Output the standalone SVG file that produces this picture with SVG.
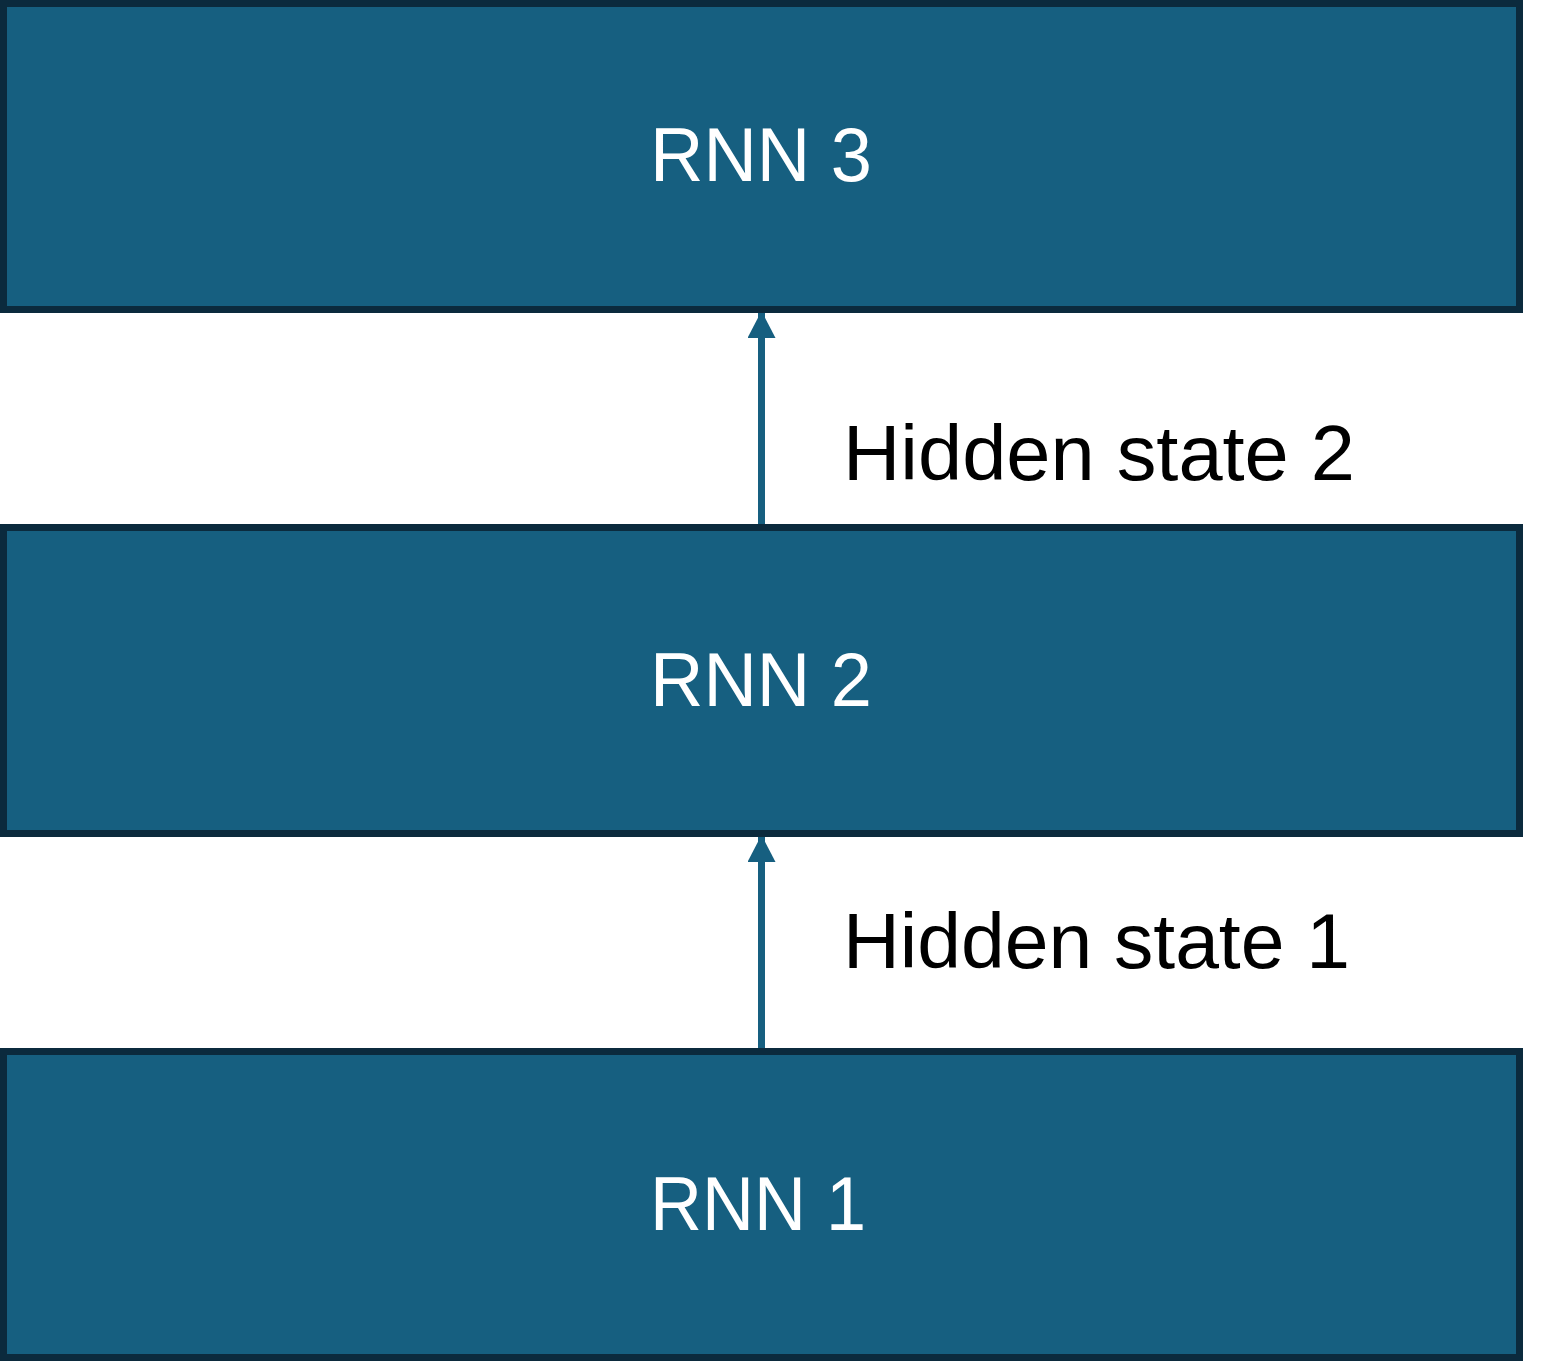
<svg xmlns="http://www.w3.org/2000/svg" width="1562" height="1361" viewBox="0 0 1562 1361">
<style>
.box{fill:#165f80;stroke:#0b2a3d;stroke-width:7}
.lbl{font-family:"Liberation Sans",Arial,sans-serif;font-size:76px;fill:#ffffff;text-anchor:middle}
.edge{font-family:"Liberation Sans",Arial,sans-serif;font-size:77px;fill:#000000}
.conn{stroke:#165f80;stroke-width:7;fill:none}
</style>
<defs>
<marker id="ah" markerUnits="userSpaceOnUse" markerWidth="28" markerHeight="28" refX="27" refY="14" orient="auto" viewBox="0 0 28 28">
<path d="M0,0 L27,14 L0,28 Z" fill="#165f80"/>
</marker>
</defs>
<rect width="1562" height="1361" fill="#ffffff"/>
<g id="connectors">
<line class="conn" x1="761.5" y1="528" x2="761.5" y2="311" marker-end="url(#ah)"/>
<line class="conn" x1="761.5" y1="1052" x2="761.5" y2="835" marker-end="url(#ah)"/>
<text class="edge" x="843" y="480" textLength="512" lengthAdjust="spacingAndGlyphs">Hidden state 2</text>
<text class="edge" x="843" y="968" textLength="507" lengthAdjust="spacingAndGlyphs">Hidden state 1</text>
</g>
<g id="rnn3">
<rect class="box" x="3.5" y="3.5" width="1516" height="306"/>
<text class="lbl" x="761" y="181" textLength="222" lengthAdjust="spacingAndGlyphs">RNN 3</text>
</g>
<g id="rnn2">
<rect class="box" x="3.5" y="527.5" width="1516" height="306"/>
<text class="lbl" x="761" y="706" textLength="222" lengthAdjust="spacingAndGlyphs">RNN 2</text>
</g>
<g id="rnn1">
<rect class="box" x="3.5" y="1051.5" width="1516" height="306"/>
<text class="lbl" x="758" y="1230" textLength="216" lengthAdjust="spacingAndGlyphs">RNN 1</text>
</g>
</svg>
